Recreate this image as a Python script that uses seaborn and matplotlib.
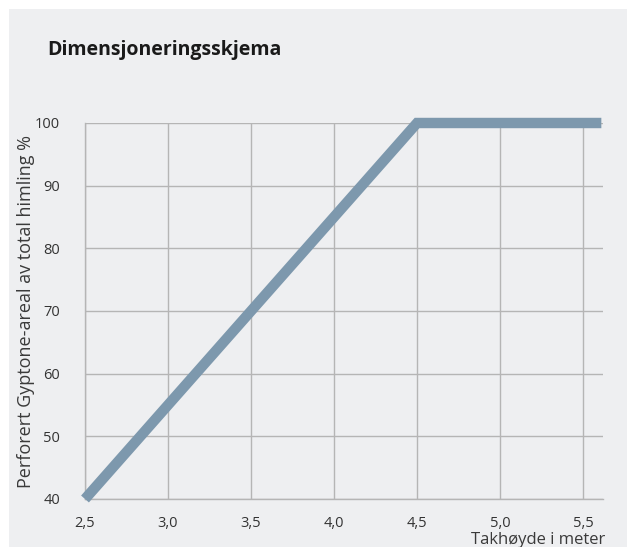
import matplotlib
matplotlib.use("Agg")
import matplotlib.pyplot as plt
import seaborn as sns
import pandas as pd
from matplotlib.patches import Rectangle

# Chart data
takhoyde = [2.5, 4.5, 5.61]
areal = [40, 100, 100]
x_ticks = [2.5, 3.0, 3.5, 4.0, 4.5, 5.0, 5.5]
x_tick_labels = ["2,5", "3,0", "3,5", "4,0", "4,5", "5,0", "5,5"]
y_ticks = [40, 50, 60, 70, 80, 90, 100]

df = pd.DataFrame({"takhoyde": takhoyde, "areal": areal})

sns.set_theme(style="white")
plt.rcParams["font.family"] = ["Open Sans", "DejaVu Sans"]

bg = "#eeeff1"
fig = plt.figure(figsize=(6.27, 5.47), dpi=100)
fig.patch.set_facecolor("white")
fig.patches.append(Rectangle((9 / 627, 0), 1, 1 - 9 / 547, transform=fig.transFigure,
                             facecolor=bg, edgecolor="none", zorder=-10))

ax = fig.add_axes([85 / 627, 1 - 499 / 547, (603 - 85) / 627, (499 - 123) / 547])
ax.set_zorder(5)
ax.set_facecolor(bg)

sns.lineplot(data=df, x="takhoyde", y="areal", ax=ax, color="#7d98ad",
             linewidth=7.5, solid_capstyle="butt", solid_joinstyle="miter",
             zorder=3, clip_on=False)

ax.set_xlim(2.5, 5.62)
ax.set_ylim(40, 100)
ax.set_xticks(x_ticks)
ax.set_xticklabels(x_tick_labels)
ax.set_yticks(y_ticks)
ax.set_yticklabels([str(v) for v in y_ticks])
ax.tick_params(axis="x", length=0, pad=12, labelsize=10.5, labelcolor="#333333")
ax.tick_params(axis="y", length=0, pad=18, labelsize=10.5, labelcolor="#333333")

ax.grid(True, color="#b5b5b5", linewidth=1)
ax.set_axisbelow(True)
for s in ["top", "right"]:
    ax.spines[s].set_visible(False)
for s in ["left", "bottom"]:
    ax.spines[s].set_color("#b5b5b5")
    ax.spines[s].set_linewidth(1)

ax.set_xlabel("")
ax.set_ylabel("Perforert Gyptone-areal av total himling %", fontsize=13,
              color="#3a3a3a")
ax.yaxis.set_label_coords(-0.097, 0.5)

fig.text(605 / 627, 1 - 540 / 547, "Takhøyde i meter", ha="right", va="center",
         fontsize=12, color="#3a3a3a")
fig.text(47 / 627, 1 - 50 / 547, "Dimensjoneringsskjema", ha="left", va="center",
         fontsize=14, fontweight="bold", color="#1a1a1a")

fig.savefig("out.png", dpi=100, facecolor=fig.get_facecolor())
